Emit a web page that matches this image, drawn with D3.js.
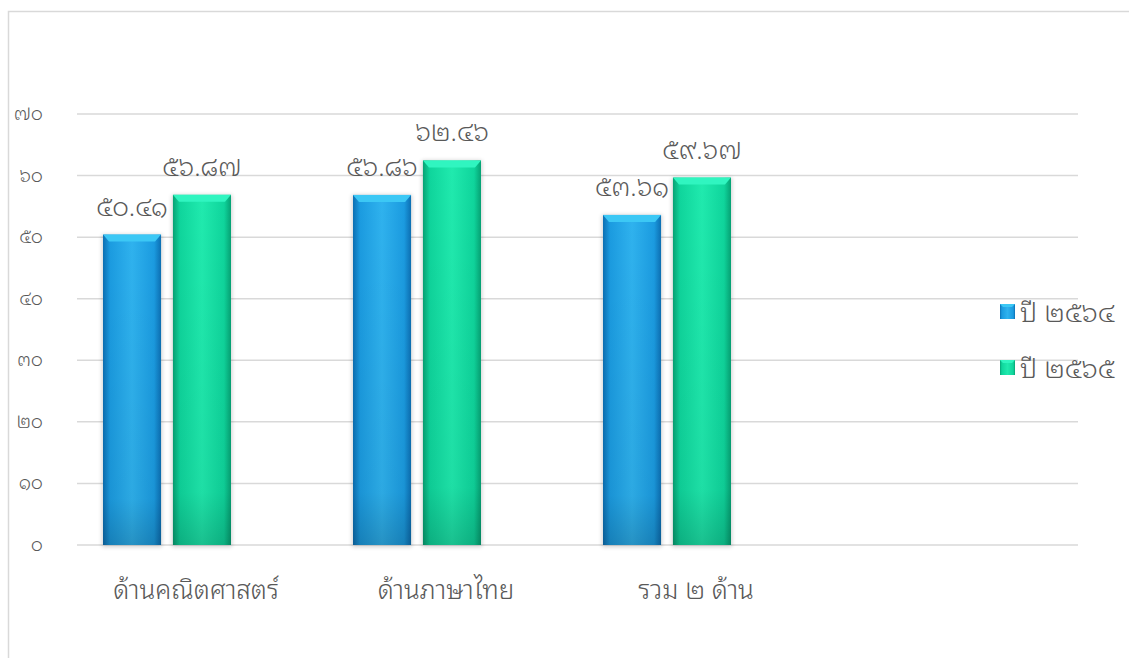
<!DOCTYPE html>
<html>
<head>
<meta charset="utf-8">
<script src="https://cdn.jsdelivr.net/npm/d3@7"></script>
<style>
  body { margin: 0; background: #fff; }
  svg text { font-family: "Noto Sans Thai Looped", "Noto Serif Thai", "Norasi", "Garuda", "Loma", "Noto Sans Thai", "Noto Sans", sans-serif; fill: #595959; font-weight: 300; }
</style>
</head>
<body>
<svg id="chart" width="1129" height="658"></svg>
<script>
const categories = ['ด้านคณิตศาสตร์', 'ด้านภาษาไทย', 'รวม ๒ ด้าน', ''];
const seriesNames = ['ปี ๒๕๖๔', 'ปี ๒๕๖๕'];
const values2564 = [50.41, 56.86, 53.61];
const values2565 = [56.87, 62.46, 59.67];
const yTicks = [0, 10, 20, 30, 40, 50, 60, 70];

const thaiDigits = '๐๑๒๓๔๕๖๗๘๙';
const toThai = s => String(s).replace(/[0-9]/g, d => thaiDigits[+d]);

const colors = {
  'ปี ๒๕๖๔': { dark: '#0c6fb3', mid: '#1b9be0', light: '#2fb2ee', cap: '#3cc8f5' },
  'ปี ๒๕๖๕': { dark: '#06a274', mid: '#0fd59c', light: '#20eaae', cap: '#30f5c0' }
};

const svg = d3.select('#chart');

// outer frame
svg.append('rect')
  .attr('x', 8.5).attr('y', 11.5)
  .attr('width', 1300).attr('height', 800)
  .style('fill', 'none').style('stroke', '#d9d9d9').style('stroke-width', 1.5);

const x = d3.scaleBand().domain(categories).range([77, 1077]);
const y = d3.scaleLinear().domain([0, 70]).range([545, 114]);
const xSub = d3.scaleBand().domain(seriesNames).range([0, 128]).paddingInner(0.17);
const groupShift = -35; // bars sit left of the label centre

// gradients
const defs = svg.append('defs');
seriesNames.forEach((s, i) => {
  const c = colors[s];
  const g = defs.append('linearGradient').attr('id', 'grad' + i)
    .attr('x1', 0).attr('x2', 1).attr('y1', 0).attr('y2', 0);
  g.append('stop').attr('offset', 0).attr('stop-color', c.dark);
  g.append('stop').attr('offset', 0.12).attr('stop-color', c.mid);
  g.append('stop').attr('offset', 0.5).attr('stop-color', c.light);
  g.append('stop').attr('offset', 0.88).attr('stop-color', c.mid);
  g.append('stop').attr('offset', 1).attr('stop-color', c.dark);
  const v = defs.append('linearGradient').attr('id', 'shade' + i)
    .attr('x1', 0).attr('x2', 0).attr('y1', 0).attr('y2', 1);
  v.append('stop').attr('offset', 0).attr('stop-color', '#000').attr('stop-opacity', 0);
  v.append('stop').attr('offset', 0.85).attr('stop-color', '#000').attr('stop-opacity', 0.05);
  v.append('stop').attr('offset', 1).attr('stop-color', '#000').attr('stop-opacity', 0.18);
});
const blur = defs.append('filter').attr('id', 'shadow')
  .attr('x', '-20%').attr('y', '-10%').attr('width', '140%').attr('height', '120%');
blur.append('feGaussianBlur').attr('stdDeviation', 2);

// gridlines
svg.append('g')
  .selectAll('line')
  .data(yTicks)
  .join('line')
  .attr('x1', 77).attr('x2', 1078)
  .attr('y1', d => y(d)).attr('y2', d => y(d))
  .style('stroke', '#d9d9d9').style('stroke-width', 1.5);

// y labels
svg.append('g')
  .selectAll('text')
  .data(yTicks)
  .join('text')
  .attr('x', 43)
  .attr('y', d => y(d) + 6)
  .attr('text-anchor', 'end')
  .style('font-size', '19px')
  .text(d => toThai(d));

// category labels
svg.append('g')
  .selectAll('text')
  .data(categories.filter(c => c))
  .join('text')
  .attr('x', d => x(d) + x.bandwidth() / 2 - 6)
  .attr('y', 599)
  .attr('text-anchor', 'middle')
  .style('font-size', '26px')
  .text(d => d);

const seriesValues = [values2564, values2565];
const barData = [];
seriesNames.forEach((s, i) => {
  categories.slice(0, 3).forEach((c, j) => {
    barData.push({ cat: c, series: s, idx: i, value: seriesValues[i][j] });
  });
});
const barX = d => x(d.cat) + x.bandwidth() / 2 + groupShift - 64 + xSub(d.series);

const bars = svg.append('g');
// soft shadow
bars.selectAll('rect.shadow')
  .data(barData)
  .join('rect')
  .attr('class', 'shadow')
  .attr('x', d => barX(d) - 1)
  .attr('y', d => y(d.value))
  .attr('width', xSub.bandwidth() + 2)
  .attr('height', d => y(0) - y(d.value) + 2)
  .style('fill', '#000').style('opacity', 0.18)
  .attr('filter', 'url(#shadow)');

bars.selectAll('rect.bar')
  .data(barData)
  .join('rect')
  .attr('class', 'bar')
  .attr('x', d => barX(d))
  .attr('y', d => y(d.value))
  .attr('width', xSub.bandwidth())
  .attr('height', d => y(0) - y(d.value))
  .style('fill', d => `url(#grad${d.idx})`);

bars.selectAll('rect.shade')
  .data(barData)
  .join('rect')
  .attr('class', 'shade')
  .attr('x', d => barX(d))
  .attr('y', d => y(d.value))
  .attr('width', xSub.bandwidth())
  .attr('height', d => y(0) - y(d.value))
  .style('fill', d => `url(#shade${d.idx})`);

// top bevel cap
bars.selectAll('path.cap')
  .data(barData)
  .join('path')
  .attr('class', 'cap')
  .attr('d', d => {
    const x0 = barX(d), x1 = x0 + xSub.bandwidth(), t = y(d.value);
    return `M${x0},${t} L${x1},${t} L${x1 - 6},${t + 7} L${x0 + 6},${t + 7} Z`;
  })
  .style('fill', d => colors[d.series].cap);

// value labels
svg.append('g')
  .selectAll('text')
  .data(barData)
  .join('text')
  .attr('x', d => barX(d) + xSub.bandwidth() / 2)
  .attr('y', d => y(d.value) - 19)
  .attr('text-anchor', 'middle')
  .style('font-size', '26px')
  .text(d => toThai(d.value.toFixed(2)));

// legend
const legend = svg.append('g')
  .selectAll('g')
  .data(seriesNames)
  .join('g')
  .attr('transform', (d, i) => `translate(1000, ${304 + i * 56})`);
legend.append('rect')
  .attr('width', 15).attr('height', 15)
  .style('fill', (d, i) => `url(#grad${i})`);
legend.append('path')
  .attr('d', 'M0,0 L15,0 L12,3 L3,3 Z')
  .style('fill', d => colors[d].cap);
legend.append('text')
  .attr('x', 20).attr('y', 18)
  .style('font-size', '27px')
  .text(d => d);
</script>
</body>
</html>
